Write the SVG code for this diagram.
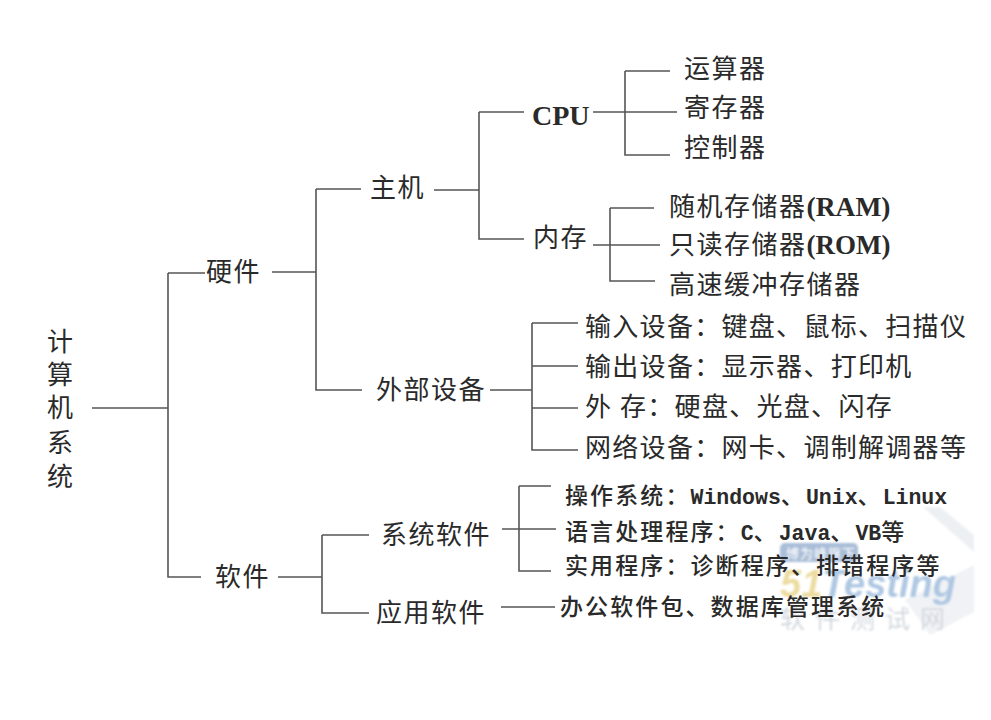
<svg xmlns="http://www.w3.org/2000/svg" width="991" height="720" viewBox="0 0 991 720">
<defs><filter id="soft" x="-5%" y="-5%" width="110%" height="110%"><feGaussianBlur stdDeviation="0.8"/></filter></defs>
<style>
.c{fill:none;stroke:#555;stroke-width:1.6}
text{font-family:"Noto Sans CJK SC","Liberation Serif",serif;fill:#2a2a2a;font-size:26px;letter-spacing:1.5px}
.s{font-family:"Liberation Serif","Noto Sans CJK SC",serif;font-weight:bold;font-size:27.5px;letter-spacing:0}
.m{font-family:"Liberation Mono","Noto Sans CJK SC",monospace;font-weight:bold;font-size:21.5px;letter-spacing:0}
.k{font-size:23px;letter-spacing:2.1px;font-weight:500}
</style>
<rect width="991" height="720" fill="#fff"/>
<g id="watermark" filter="url(#soft)">
<path d="M923 507H940L974 535V552Z" fill="#edf0f3"/>
<path d="M905 600L974 565V612L930 635Z" fill="#f0f2f5"/>
<rect x="780" y="543" width="78" height="19" rx="5" fill="#a9bed8"/>
<text x="786" y="558" style="fill:#fff;font-size:13px;letter-spacing:1px;font-family:'Noto Sans CJK SC',sans-serif">博为峰旗下</text>
<text x="780" y="597" style="font-size:38px;font-weight:bold;font-style:italic;fill:#aec7e2;letter-spacing:0;font-family:'Liberation Sans',sans-serif"><tspan style="fill:#ecdca0">51</tspan>Testing</text>
<text x="780" y="628" style="font-size:25px;letter-spacing:10px;fill:#d3d8de;font-family:'Noto Sans CJK SC',sans-serif">软件测试网</text>
</g>
<g id="connectors">
<path class="c" d="M92 408H168M168 273H205M168 273V577H201M272 272H316M316 189H361M316 189V390H362"/>
<path class="c" d="M434 190H479M479 112H524M479 112V239H524M593 112H677M625 71H670M625 71V155H670M593 245H660M610 208H654M610 208V281H655"/>
<path class="c" d="M490 390H532M532 323H578M532 323V450H578M532 366H578M532 408H578"/>
<path class="c" d="M278 577H322M322 535H369M322 535V613H369M502 529H556M519 486H551M519 486V571H551M501 607H555"/>
</g>
<g id="root"><text x="47" y="351">计</text><text x="47" y="384">算</text><text x="47" y="417">机</text><text x="47" y="452">系</text><text x="47" y="486">统</text></g>
<g id="hardware"><text x="206" y="281">硬件</text></g>
<g id="software"><text x="215" y="586">软件</text></g>
<g id="host"><text x="370" y="197">主机</text></g>
<g id="peripheral"><text x="376" y="399">外部设备</text></g>
<g id="syssw"><text x="381" y="544">系统软件</text></g>
<g id="appsw"><text x="376" y="622">应用软件</text></g>
<g id="cpu"><text class="s" style="font-size:28px" x="532" y="125">CPU</text></g>
<g id="memory"><text x="533" y="247">内存</text></g>
<g id="alu"><text x="684" y="78">运算器</text></g>
<g id="reg"><text x="684" y="117">寄存器</text></g>
<g id="ctrl"><text x="684" y="157">控制器</text></g>
<g id="ram"><text x="669" y="216">随机存储器<tspan class="s">(RAM)</tspan></text></g>
<g id="rom"><text x="669" y="254">只读存储器<tspan class="s" style="font-size:27px">(ROM)</tspan></text></g>
<g id="cache"><text x="669" y="294">高速缓冲存储器</text></g>
<g id="in"><text x="585" y="336" style="letter-spacing:1.3px">输入设备：键盘、鼠标、扫描仪</text></g>
<g id="out"><text x="585" y="376" style="letter-spacing:1.3px">输出设备：显示器、打印机</text></g>
<g id="ext"><text x="585" y="416" style="letter-spacing:1.3px">外 <tspan x="620">存：硬盘、光盘、闪存</tspan></text></g>
<g id="net"><text x="585" y="457" style="letter-spacing:1.3px">网络设备：网卡、调制解调器等</text></g>
<g id="os"><text class="k" x="565" y="504">操作系统：<tspan class="m">Windows</tspan>、<tspan class="m">Unix</tspan>、<tspan class="m">Linux</tspan></text></g>
<g id="lang"><text class="k" x="565" y="540">语言处理程序：<tspan class="m">C</tspan>、<tspan class="m">Java</tspan>、<tspan class="m">VB</tspan>等</text></g>
<g id="util"><text class="k" x="565" y="574">实用程序：诊断程序、排错程序等</text></g>
<g id="office"><text class="k" x="560" y="615">办公软件包、数据库管理系统</text></g>
</svg>
